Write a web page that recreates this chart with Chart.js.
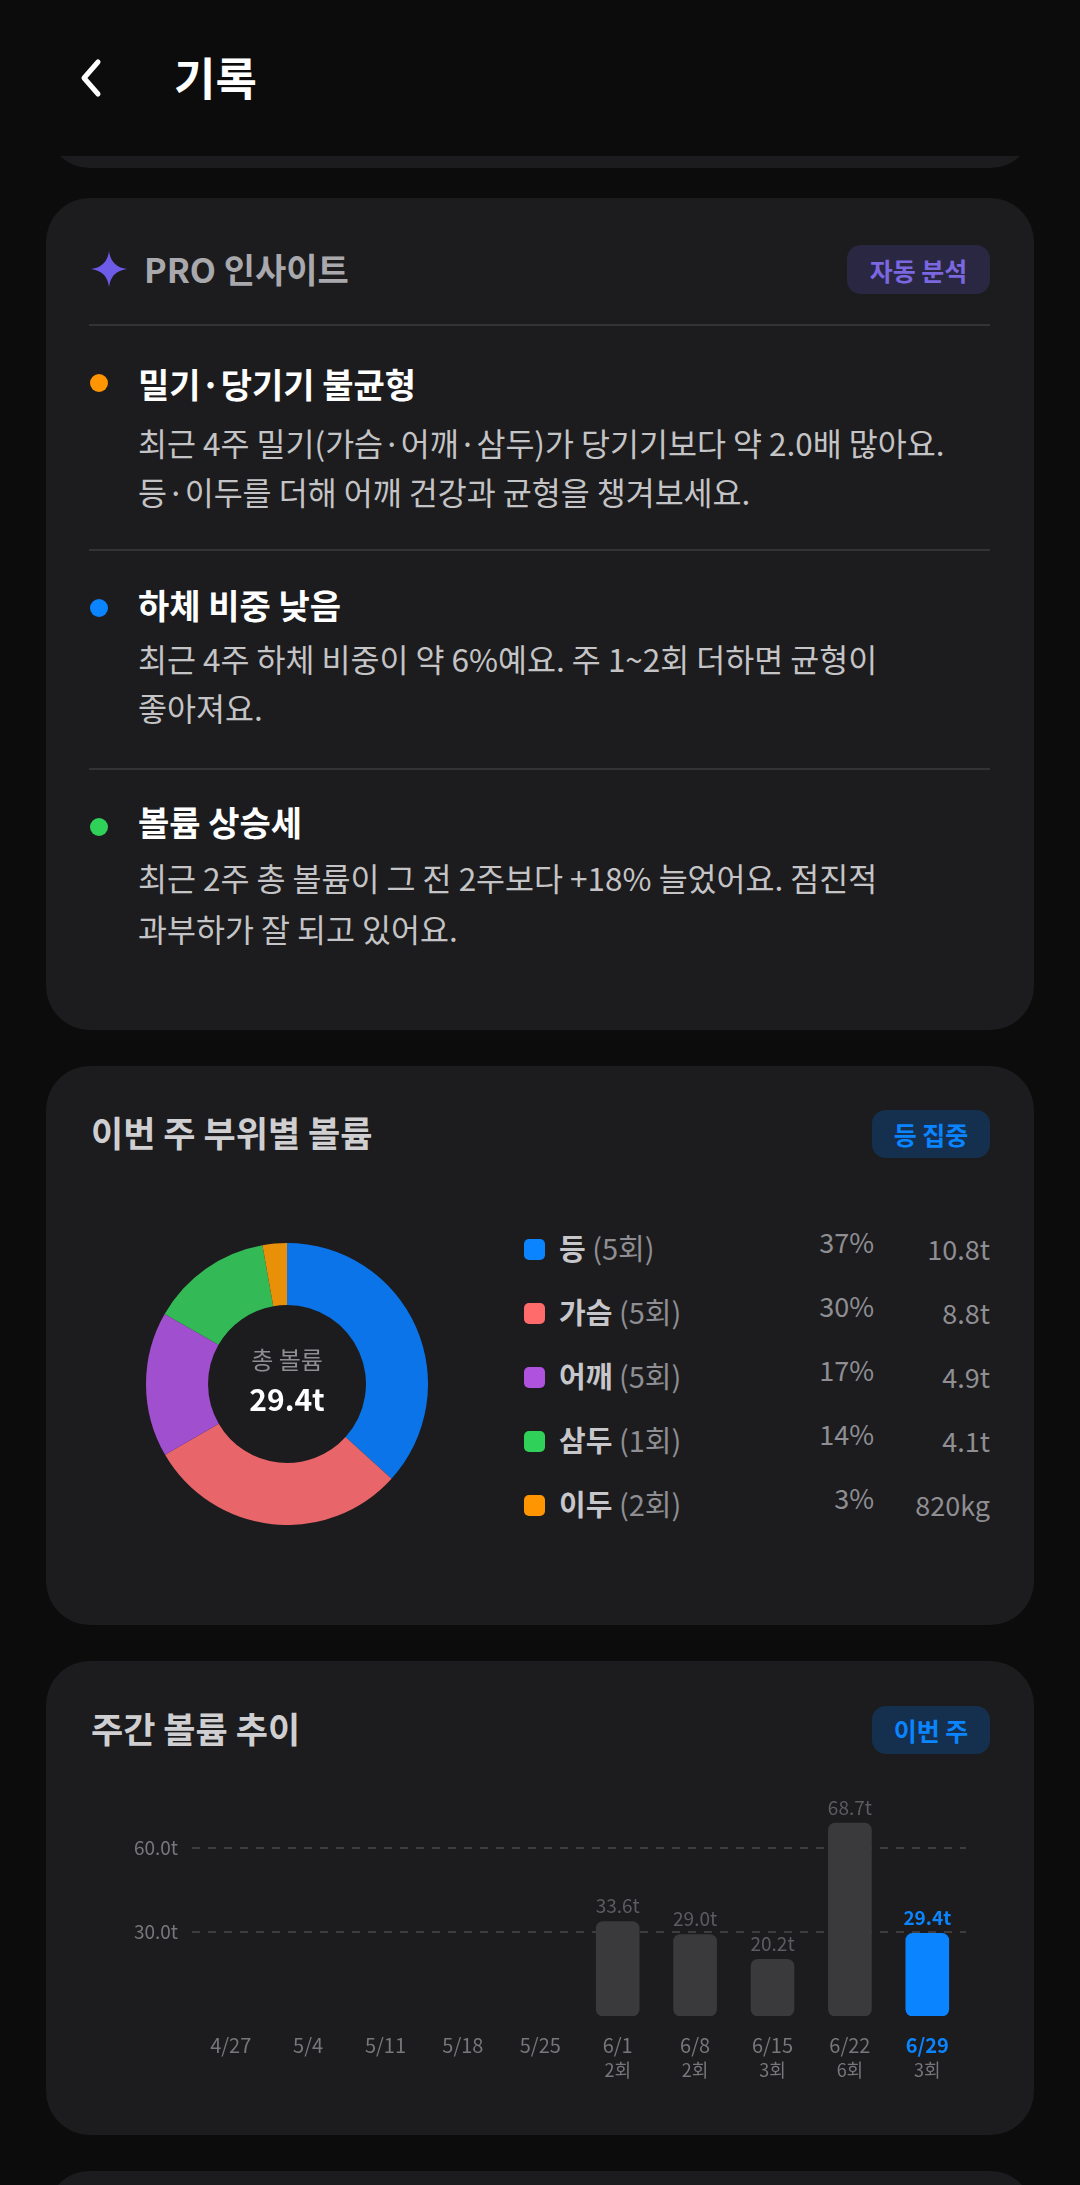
<!DOCTYPE html>
<html><head><meta charset="utf-8">
<script src="https://cdn.jsdelivr.net/npm/chart.js@4"></script>
<style>
body{margin:0;width:1080px;height:2185px;background:#0c0c0c;position:relative;overflow:hidden;font-family:"Noto Sans CJK KR","Noto Sans",sans-serif;color:#fff}
.a{position:absolute}
.card{position:absolute;left:46px;width:988px;background:#1c1c1e;border-radius:44px}
.t{position:absolute;white-space:nowrap;line-height:1}
.badge{position:absolute;border-radius:14px;font-weight:700;font-size:25px;display:flex;align-items:center;justify-content:center}
.hr{position:absolute;left:89px;width:901px;height:2px;background:#333336}
.dot{position:absolute;width:18px;height:18px;border-radius:50%}
.it{font-weight:700;font-size:34px;color:#fff}
.bd{font-size:31.5px;color:#c4c4c6}
.sq{position:absolute;width:21px;height:21px;border-radius:5px}
</style></head><body>
<div class="card" style="top:60px;height:108px;border-radius:0 0 44px 44px"></div>
<div class="a" style="left:0;top:0;width:1080px;height:156px;background:#0c0c0c"></div>
<svg class="a" style="left:74px;top:56px" width="32" height="44"><polyline points="24,6 10,22 24,38" fill="none" stroke="#fff" stroke-width="5" stroke-linecap="round" stroke-linejoin="round"/></svg>
<div class="t" style="left:174px;top:54px;font-size:45px;font-weight:700">기록</div>

<div class="card" style="top:198px;height:832px"></div>
<svg class="a" style="left:90px;top:250px" width="38" height="38"><path d="M19 1 Q21 17 37 19 Q21 21 19 37 Q17 21 1 19 Q17 17 19 1Z" fill="#6c5ce7"/></svg>
<div class="t" style="left:144px;top:252px;font-size:34px;font-weight:700;color:#a9a9ad">PRO 인사이트</div>
<div class="badge" style="left:847px;top:245px;width:143px;height:49px;background:#2a2742;color:#7b68e0">자동 분석</div>
<div class="hr" style="top:324px"></div>
<div class="dot" style="left:90px;top:374px;background:#ff9500"></div>
<div class="t it" style="left:138px;top:367px">밀기·당기기 불균형</div>
<div class="t bd" style="left:138px;top:427px">최근 4주 밀기(가슴·어깨·삼두)가 당기기보다 약 2.0배 많아요.</div>
<div class="t bd" style="left:138px;top:476px">등·이두를 더해 어깨 건강과 균형을 챙겨보세요.</div>
<div class="hr" style="top:549px"></div>
<div class="dot" style="left:90px;top:599px;background:#0a84ff"></div>
<div class="t it" style="left:138px;top:588px">하체 비중 낮음</div>
<div class="t bd" style="left:138px;top:643px">최근 4주 하체 비중이 약 6%예요. 주 1~2회 더하면 균형이</div>
<div class="t bd" style="left:138px;top:692px">좋아져요.</div>
<div class="hr" style="top:768px"></div>
<div class="dot" style="left:90px;top:818px;background:#30d158"></div>
<div class="t it" style="left:138px;top:805px">볼륨 상승세</div>
<div class="t bd" style="left:138px;top:862px">최근 2주 총 볼륨이 그 전 2주보다 +18% 늘었어요. 점진적</div>
<div class="t bd" style="left:138px;top:913px">과부하가 잘 되고 있어요.</div>

<div class="card" style="top:1066px;height:559px"></div>
<div class="t" style="left:91px;top:1114px;font-size:35px;font-weight:700;color:#cfcfd2">이번 주 부위별 볼륨</div>
<div class="badge" style="left:872px;top:1110px;width:118px;height:48px;background:#15304f;color:#0a84ff">등 집중</div>
<div class="a" style="left:146px;top:1243px;width:282px;height:282px"><canvas id="donut"></canvas></div>
<div class="t" style="left:187px;top:1347px;width:200px;text-align:center;font-size:24px;color:#8e8e93">총 볼륨</div>
<div class="t" style="left:187px;top:1383px;width:200px;text-align:center;font-size:30px;font-weight:700;color:#fff">29.4t</div>
<div id="legend"></div>

<div class="card" style="top:1661px;height:474px"></div>
<div class="t" style="left:91px;top:1710px;font-size:35px;font-weight:700;color:#cfcfd2">주간 볼륨 추이</div>
<div class="badge" style="left:872px;top:1706px;width:118px;height:48px;background:#15304f;color:#0a84ff">이번 주</div>
<div class="a" style="left:100px;top:1780px;width:880px;height:306px"><canvas id="bars"></canvas></div>
<div class="card" style="top:2171px;height:100px"></div>

<script>
const parts=["등","가슴","어깨","삼두","이두"];
const partCounts=["(5회)","(5회)","(5회)","(1회)","(2회)"];
const partVolumes=[10.8,8.8,4.9,4.1,0.82];
const partPct=["37%","30%","17%","14%","3%"];
const partLabels=["10.8t","8.8t","4.9t","4.1t","820kg"];
const partColors=["#0a74e8","#e8666a","#a04fcf","#34b957","#e89008"];
const legendSq=["#0a84ff","#ff6b6b","#af52de","#30d158","#ff9500"];

const weeks=["4/27","5/4","5/11","5/18","5/25","6/1","6/8","6/15","6/22","6/29"];
const sessions=["","","","","","2회","2회","3회","6회","3회"];
const weekVolumes=[null,null,null,null,null,33.6,29.0,20.2,68.7,29.4];
const yTicks=[30,60];

const FONT='"Noto Sans CJK KR","Noto Sans",sans-serif';
let lg='';
const rows=[1249,1313,1377,1441,1505];
parts.forEach((p,i)=>{const y=rows[i];
 lg+=`<div class="sq" style="left:524px;top:${y-10}px;background:${legendSq[i]}"></div>`+
 `<div class="t" style="left:559px;top:${y-16}px;font-size:29px;color:#c7c7cb"><b>${p}</b> <span style="color:#8e8e93">${partCounts[i]}</span></div>`+
 `<div class="t" style="left:774px;width:100px;text-align:right;top:${y-21}px;font-size:27px;color:#8e8e93">${partPct[i]}</div>`+
 `<div class="t" style="left:870px;width:120px;text-align:right;top:${y-14}px;font-size:27px;color:#8e8e93">${partLabels[i]}</div>`;});
document.getElementById('legend').innerHTML=lg;

new Chart(document.getElementById('donut'),{type:'doughnut',
 data:{labels:parts,datasets:[{data:partVolumes,backgroundColor:partColors,borderWidth:0}]},
 options:{responsive:true,maintainAspectRatio:false,animation:false,cutout:'56%',
  plugins:{legend:{display:false},tooltip:{enabled:false}}}});

const last=weeks.length-1;
const valLabels={id:'vl',afterDatasetsDraw(c){const ctx=c.ctx;const m=c.getDatasetMeta(0);
 ctx.save();ctx.textAlign='center';ctx.textBaseline='bottom';
 m.data.forEach((b,i)=>{const v=weekVolumes[i];if(v==null)return;
  ctx.font=(i===last?'bold ':'')+'19px '+FONT;
  ctx.fillStyle=i===last?'#0a84ff':'#5c5c60';ctx.fillText(v.toFixed(1)+'t',b.x,b.y-6);});
 ctx.textBaseline='middle';ctx.font='18px '+FONT;ctx.fillStyle='#77777b';
 const xs=c.scales.x;
 sessions.forEach((s,i)=>{if(s)ctx.fillText(s,xs.getPixelForValue(i),c.chartArea.bottom+54);});
 ctx.restore();}};
new Chart(document.getElementById('bars'),{type:'bar',
 data:{labels:weeks,datasets:[{data:weekVolumes,
  backgroundColor:weeks.map((w,i)=>i===last?'#0a84ff':'#3a3a3c'),borderRadius:7,borderSkipped:false,barThickness:43}]},
 options:{responsive:true,maintainAspectRatio:false,animation:false,
  layout:{padding:{top:0,right:14,left:0,bottom:0}},
  plugins:{legend:{display:false},tooltip:{enabled:false}},
  scales:{
   x:{grid:{display:false},border:{display:false},
    afterFit(a){a.height=70;},
    ticks:{padding:9,font:(ctx)=>({family:FONT,size:20,lineHeight:1.25,weight:ctx.index===last?'bold':'normal'}),maxRotation:0,autoSkip:false,
     color:(ctx)=>ctx.index===last?'#0a84ff':'#77777b'}},
   y:{min:0,max:75,
    afterFit(a){a.width=92;},
    afterBuildTicks(a){a.ticks=yTicks.map(v=>({value:v}));},
    grid:{color:'#3d3d40',lineWidth:2,drawTicks:false},
    border:{display:false,dash:[8,8]},
    ticks:{padding:14,color:'#77777b',font:{family:FONT,size:19},callback:v=>v.toFixed(1)+'t'}}}},
 plugins:[valLabels]});
</script>
</body></html>
